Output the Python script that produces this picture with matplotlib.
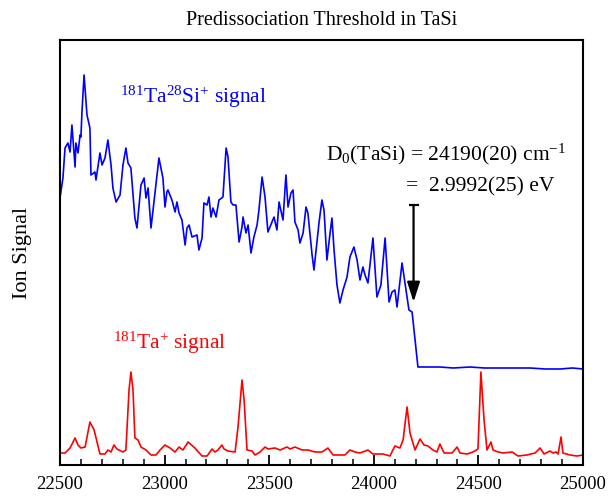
import matplotlib
matplotlib.use("Agg")
from matplotlib import pyplot as plt
from matplotlib.ticker import MultipleLocator

plt.rcParams["font.family"] = "Liberation Serif"
plt.rcParams["mathtext.fontset"] = "custom"
plt.rcParams["mathtext.rm"] = "Liberation Serif"
plt.rcParams["mathtext.it"] = "Liberation Serif:italic"

# TaSi+ signal (wavenumber in cm-1, arbitrary intensity)
tasi_w = [22500, 22514, 22524, 22538, 22548, 22557, 22572, 22576, 22586, 22596,
          22600, 22605, 22615, 22629, 22643, 22648, 22667, 22672, 22691, 22701,
          22715, 22729, 22744, 22753, 22768, 22787, 22801, 22815, 22825, 22839,
          22849, 22858, 22868, 22887, 22902, 22911, 22921, 22935, 22954, 22973,
          22992, 23002, 23011, 23016, 23035, 23050, 23059, 23069, 23083, 23098,
          23107, 23117, 23131, 23155, 23164, 23179, 23188, 23203, 23212, 23222,
          23231, 23246, 23260, 23279, 23294, 23303, 23317, 23327, 23341, 23356,
          23370, 23375, 23389, 23399, 23413, 23427, 23442, 23451, 23466, 23480,
          23494, 23513, 23523, 23537, 23547, 23566, 23580, 23590, 23604, 23614,
          23623, 23638, 23647, 23662, 23676, 23685, 23705, 23714, 23724, 23738,
          23752, 23762, 23776, 23791, 23800, 23810, 23824, 23838, 23853, 23872,
          23886, 23905, 23920, 23934, 23948, 23958, 23972, 23996, 24015, 24034,
          24054, 24073, 24087, 24101, 24111, 24135, 24154, 24168, 24183, 24211,
          24260, 24316, 24380, 24460, 24530, 24603, 24680, 24747, 24820, 24890,
          24950, 25000]
tasi_s = [267, 287, 317, 322, 313, 340, 298, 322, 312, 330,
          328, 353, 390, 350, 337, 290, 293, 285, 312, 300,
          307, 325, 300, 277, 263, 270, 300, 317, 302, 297,
          270, 247, 237, 280, 287, 267, 277, 237, 272, 307,
          287, 258, 273, 275, 265, 253, 263, 252, 245, 220,
          237, 240, 228, 230, 215, 227, 262, 260, 268, 248,
          257, 248, 265, 268, 317, 308, 263, 260, 260, 223,
          238, 248, 232, 240, 212, 228, 240, 255, 288, 268,
          233, 243, 248, 235, 263, 245, 290, 258, 272, 275,
          243, 235, 222, 232, 258, 252, 210, 195, 215, 242,
          265, 255, 205, 232, 247, 215, 180, 162, 175, 188,
          208, 218, 205, 185, 198, 190, 182, 227, 168, 180,
          227, 163, 173, 175, 158, 202, 175, 155, 153, 98,
          98, 98, 97, 98, 97, 97, 97, 97, 96, 96,
          97, 96]

# Ta+ signal
ta_w = [22500, 22524, 22548, 22572, 22586, 22600, 22620, 22643, 22663, 22677,
        22691, 22715, 22729, 22744, 22758, 22772, 22801, 22815, 22830, 22839,
        22849, 22858, 22873, 22887, 22911, 22935, 22959, 22978, 23002, 23026,
        23050, 23069, 23088, 23112, 23145, 23179, 23203, 23227, 23241, 23255,
        23274, 23284, 23303, 23337, 23351, 23370, 23380, 23394, 23418, 23432,
        23456, 23480, 23494, 23528, 23552, 23585, 23600, 23623, 23657, 23686,
        23719, 23752, 23781, 23805, 23862, 23886, 23910, 23934, 23972, 23996,
        24044, 24077, 24101, 24125, 24140, 24159, 24173, 24197, 24221, 24240,
        24259, 24283, 24302, 24316, 24336, 24374, 24398, 24412, 24446, 24474,
        24498, 24512, 24527, 24541, 24560, 24570, 24594, 24618, 24661, 24689,
        24732, 24771, 24795, 24814, 24842, 24857, 24871, 24881, 24895, 24904,
        24938, 24971, 25000]
ta_s = [12, 12, 17, 27, 20, 17, 18, 43, 35, 23,
        11, 11, 15, 13, 20, 16, 13, 15, 75, 93,
        75, 27, 25, 18, 15, 10, 10, 15, 20, 17,
        13, 18, 15, 23, 17, 9, 9, 16, 13, 15,
        20, 16, 14, 13, 38, 85, 65, 15, 14, 10,
        13, 18, 16, 17, 15, 18, 16, 18, 15, 15,
        13, 13, 17, 10, 10, 15, 13, 12, 15, 11,
        11, 9, 19, 17, 25, 58, 32, 15, 26, 20,
        19, 15, 13, 21, 12, 12, 18, 12, 11, 13,
        16, 93, 45, 15, 23, 15, 13, 12, 13, 9,
        10, 12, 17, 11, 14, 12, 13, 11, 28, 12,
        10, 9, 10]

threshold = 24190
arrow_top = 260
arrow_tip = 163

fig = plt.figure(figsize=(6.13, 4.96), dpi=100)
ax = fig.add_axes([60 / 613, 31 / 496, 523 / 613, 425 / 496])

ax.plot(tasi_w, tasi_s, color="#0000ff", lw=1.2)
ax.plot(ta_w, ta_s, color="#ff0000", lw=1.2)

ax.annotate("", xy=(threshold, arrow_tip), xytext=(threshold, arrow_top),
            arrowprops=dict(arrowstyle="-|>,head_length=1.0,head_width=0.32",
                            mutation_scale=12, lw=1.6, color="k",
                            shrinkA=0, shrinkB=0))
ax.hlines(arrow_top, threshold - 24, threshold + 24, color="k", lw=1.6)

ax.text(23772, 311, r"D$_0$(TaSi) = 24190(20) cm$^{-1}$", fontsize=15.5,
        ha="left", va="center")
ax.text(24155, 278, "=  2.9992(25) eV", fontsize=15.5, ha="left", va="center")
ax.text(22787, 368, r"$^{181}$Ta$^{28}$Si$^{+}$ signal", fontsize=15.5,
        color="#0000ff", ha="left", va="center")
ax.text(22753, 122, r"$^{181}$Ta$^{+}$ signal", fontsize=15.5,
        color="#ff0000", ha="left", va="center")

ax.set_xlim(22500, 25000)
ax.set_ylim(0, 425)
ax.xaxis.set_major_locator(MultipleLocator(500))
ax.xaxis.set_minor_locator(MultipleLocator(100))
ax.tick_params(axis="x", which="major", direction="in", length=7, width=1.3,
               labelsize=13.5, pad=8)
ax.tick_params(axis="x", which="minor", direction="in", length=4, width=1.1)
ax.set_yticks([])
for sp in ax.spines.values():
    sp.set_linewidth(1.5)

ax.set_ylabel("Ion Signal", fontsize=16, labelpad=20)
ax.set_title("Predissociation Threshold in TaSi", fontsize=14.5, pad=11)

fig.savefig("out.png", dpi=100)
